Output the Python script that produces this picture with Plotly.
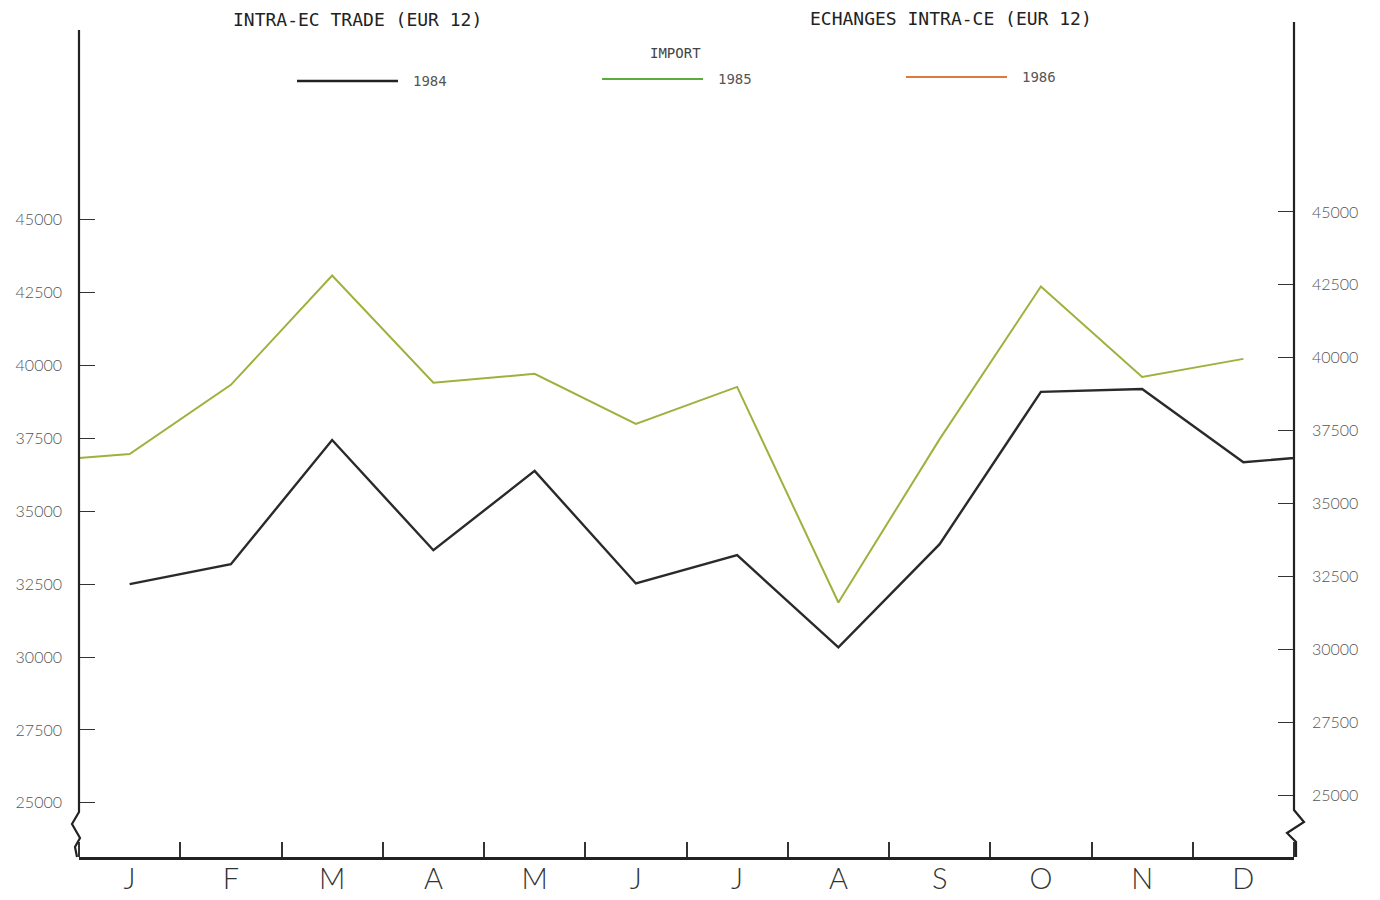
import plotly.graph_objects as go

# ---------------- data ----------------
months = ["J", "F", "M", "A", "M", "J", "J", "A", "S", "O", "N", "D"]
import_1984 = [32500, 33180, 37440, 33660, 36380, 32520, 33490, 30330, 33870, 39090, 39190, 36680]
import_1985 = [36960, 39330, 43080, 39400, 39710, 37990, 39260, 31870, 37470, 42700, 39600, 40220]
series_names = ["1984", "1985", "1986"]
series_colors = ["#222222", "#5aad3c", "#e07a3a"]
y_ticks = [25000, 27500, 30000, 32500, 35000, 37500, 40000, 42500, 45000]
y_ticktext = [str(v) for v in y_ticks]
title_en = "INTRA-EC TRADE (EUR 12)"
title_fr = "ECHANGES INTRA-CE (EUR 12)"
subtitle = "IMPORT"

# ---------------- layout geometry (page pixels) ----------------
PAGE_W, PAGE_H = 1380, 900
BODY = 8  # default body margin of the html page
FIG_W, FIG_H = PAGE_W - BODY, PAGE_H - BODY
L, R, T, B = 79, 1294, 28, 857
PW, PH = R - L, B - T


def px2x(px):
    return (px - L) / PW


def py2y(py):
    return (B - py) / PH


y_range = [23144, 51563]
y2_shift = 258
x_pos = list(range(1, 13))

fig = go.Figure()

# 1984: continues half a month toward January of the next year
fig.add_trace(go.Scatter(
    x=x_pos + [13], y=import_1984 + [import_1985[0]],
    mode="lines", line=dict(color="#2a2a2a", width=2.4),
    name="1984", showlegend=False, hoverinfo="skip"))
# 1985: starts from December of the previous year
fig.add_trace(go.Scatter(
    x=[0] + x_pos, y=[import_1984[-1]] + import_1985,
    mode="lines", line=dict(color="#9cb23e", width=2.0),
    name="1985", showlegend=False, hoverinfo="skip"))
# empty trace to anchor the right-hand axis
fig.add_trace(go.Scatter(x=[], y=[], yaxis="y2", showlegend=False, hoverinfo="skip"))

tick_font = dict(family="Lato, DejaVu Sans, sans-serif", size=16, color="#555555", weight=300)

shapes = []
# axes with break marks
left_pts = [(79, 30), (79, 812), (72, 824), (80, 838), (75, 847), (77, 857)]
right_pts = [(1294, 22), (1294, 810), (1304, 822), (1287, 833), (1296, 842), (1296, 857)]
for pts in (left_pts, right_pts):
    path = "M " + " L ".join(f"{px2x(a):.5f},{py2y(b):.5f}" for a, b in pts)
    shapes.append(dict(type="path", xref="paper", yref="paper", path=path,
                       line=dict(color="#222222", width=2.2)))

# custom legend keys
legend_keys = [(297, 398, 81), (602, 703, 79), (906, 1007, 77)]
annotations = []
for (x0, x1, yy), nm, col in zip(legend_keys, series_names, series_colors):
    shapes.append(dict(type="line", xref="paper", yref="paper",
                       x0=px2x(x0), x1=px2x(x1), y0=py2y(yy), y1=py2y(yy),
                       line=dict(color=col, width=2.6 if nm == "1984" else 2.2)))
    annotations.append(dict(text=nm, xref="paper", yref="paper", x=px2x(x1 + 13), y=py2y(yy),
                            xanchor="left", yanchor="middle", showarrow=False,
                            font=dict(family="DejaVu Sans Mono", size=14, color="#555555")))

annotations += [
    dict(text=title_en, xref="paper", yref="paper", x=px2x(231), y=py2y(20),
         xanchor="left", yanchor="middle", showarrow=False,
         font=dict(family="DejaVu Sans Mono", size=18, color="#222222")),
    dict(text=title_fr, xref="paper", yref="paper", x=px2x(808), y=py2y(18),
         xanchor="left", yanchor="middle", showarrow=False,
         font=dict(family="DejaVu Sans Mono", size=18, color="#222222")),
    dict(text=subtitle, xref="paper", yref="paper", x=px2x(675), y=py2y(53),
         xanchor="center", yanchor="middle", showarrow=False,
         font=dict(family="DejaVu Sans Mono", size=14, color="#444444")),
]

fig.update_layout(
    width=FIG_W, height=FIG_H,
    margin=dict(l=L - BODY, r=PAGE_W - R, t=T - BODY, b=PAGE_H - B, pad=0),
    paper_bgcolor="white", plot_bgcolor="white",
    showlegend=False,
    xaxis=dict(range=[0.5, 12.5], tickmode="array", tickvals=x_pos, ticktext=months,
               ticks="", showgrid=False, zeroline=False, automargin=False,
               showline=True, linecolor="#222222", linewidth=2.6,
               tickfont=dict(family="Lato, DejaVu Sans, sans-serif", size=29, color="#333333", weight=300),
               ticklabelstandoff=-6,
               minor=dict(tickmode="linear", tick0=1.5, dtick=1, ticks="inside",
                          ticklen=15, tickwidth=1.6, tickcolor="#333333", showgrid=False)),
    yaxis=dict(range=y_range, tickmode="array", tickvals=y_ticks, ticktext=y_ticktext,
               ticks="inside", ticklen=16, tickwidth=1.4, tickcolor="#333333",
               showgrid=False, zeroline=False, showline=False, automargin=False,
               tickfont=tick_font, ticklabelstandoff=16),
    yaxis2=dict(range=[y_range[0] - y2_shift, y_range[1] - y2_shift], overlaying="y", side="right",
                tickmode="array", tickvals=y_ticks, ticktext=y_ticktext,
                ticks="inside", ticklen=16, tickwidth=1.4, tickcolor="#333333",
                showgrid=False, zeroline=False, showline=False, automargin=False,
                tickfont=tick_font, ticklabelstandoff=17),
    shapes=shapes,
    annotations=annotations,
)

fig.write_html("out.html")
